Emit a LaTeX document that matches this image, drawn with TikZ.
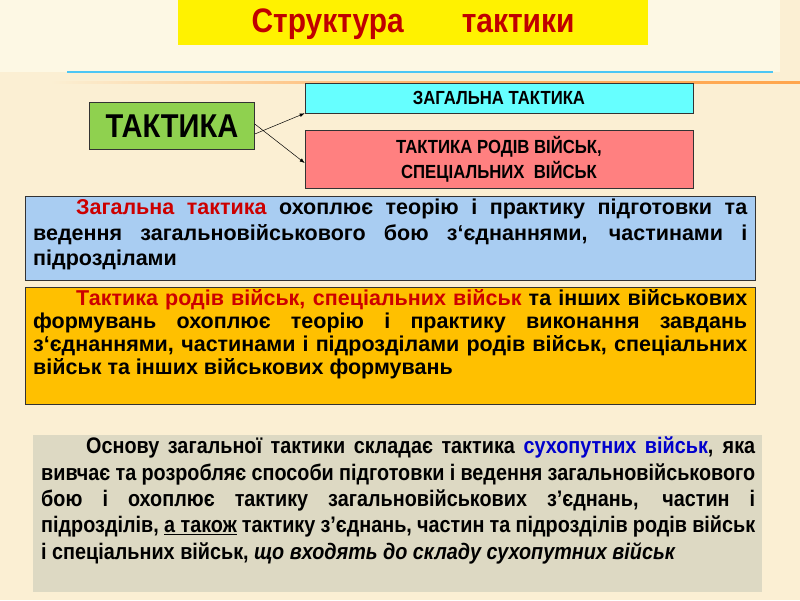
\documentclass[tikz,border=0pt]{standalone}
\usepackage{fontspec}
\setmainfont{Liberation Sans}
\newfontfamily\narrowf[FakeStretch=0.88]{Liberation Sans}
\usetikzlibrary{arrows.meta}
\definecolor{bg}{HTML}{FBEFD3}
\definecolor{topbg}{HTML}{FDF8E4}
\definecolor{ttl}{HTML}{C00000}
\definecolor{grn}{HTML}{8FD14F}
\definecolor{cyn}{HTML}{66FFFF}
\definecolor{pnk}{HTML}{FF8080}
\definecolor{lblue}{HTML}{A9CDF2}
\definecolor{gold}{HTML}{FFC000}
\definecolor{gry}{HTML}{DDD9C3}
\definecolor{dred}{HTML}{CC0000}
\begin{document}
\begin{tikzpicture}[x=1pt,y=-1pt,
 bx/.style={draw=black!80,line width=0.6pt,inner sep=0pt},
 para/.style={anchor=north west,inner sep=0pt,align=justify}]
\useasboundingbox (0,0) rectangle (800,600);
\fill[bg] (0,0) rectangle (800,600);
\fill[topbg] (0,0) rectangle (780,72);
\shade[left color=bg,right color=orange!70,middle color=orange!60] (50,81) rectangle (800,83);
\draw[cyan!70,line width=2pt] (67,72) -- (773,72);
\fill[yellow] (178,0) rectangle (648,45);
\node (title) at (413,24) {\narrowf\fontsize{34}{36}\selectfont\bfseries\color{ttl}Структура\hspace{58pt}тактики};
\node[bx,fill=grn,minimum width=165,minimum height=47] (tak) at (172,126) {\narrowf\fontsize{33}{35}\selectfont\bfseries ТАКТИКА};
\node[bx,fill=cyn,minimum width=388,minimum height=30] (zag) at (499,98) {\narrowf\fontsize{19}{21}\selectfont\bfseries ЗАГАЛЬНА ТАКТИКА};
\node[bx,fill=pnk,minimum width=388,minimum height=58,align=center,font=\narrowf\fontsize{19}{25}\selectfont\bfseries] (rod) at (499,159) {ТАКТИКА РОДІВ ВІЙСЬК,\\ СПЕЦІАЛЬНИХ\ \ ВІЙСЬК};
\draw[-{Latex[length=5pt]},line width=0.5pt] ([yshift=-8]tak.east) -- ([yshift=0]zag.south west);
\draw[-{Latex[length=5pt]},line width=0.5pt] ([yshift=2]tak.east) -- ([yshift=-4]rod.west);
\node[bx,fill=lblue,minimum width=730,minimum height=84,anchor=north west] (b1) at (25,196) {};
\node[para] (t1) at (33,199) {\parbox{714pt}{\bfseries\fontsize{21.5}{25.5}\selectfont\hspace*{2em}{\color{dred}Загальна тактика} охоплює теорію і практику підготовки та ведення загальновійськового бою з‘єднаннями, частинами і підрозділами}};
\node[bx,fill=gold,minimum width=730,minimum height=117,anchor=north west] (b2) at (25,287) {};
\node[para] (t2) at (33,289) {\parbox{714pt}{\bfseries\fontsize{21.5}{23}\selectfont\hspace*{2em}{\color{dred}Тактика родів військ, спеціальних військ} та інших військових формувань охоплює теорію і практику виконання завдань з‘єднаннями, частинами і підрозділами родів військ, спеціальних військ та інших військових формувань}};
\fill[gry] (33,435) rectangle (762,592);
\node[para] (t3) at (41,437) {\parbox{714pt}{\narrowf\bfseries\fontsize{22.5}{26.3}\selectfont\hspace*{2em}Основу загальної тактики складає тактика {\color{blue!80!black}сухопутних військ}, яка вивчає та розробляє способи підготовки і ведення загальновійськового бою і охоплює тактику загальновійськових з’єднань, частин і підрозділів, \underline{а також} тактику з’єднань, частин та підрозділів родів військ і спеціальних військ, \textit{що входять до складу сухопутних військ}}};
\end{tikzpicture}
\end{document}
